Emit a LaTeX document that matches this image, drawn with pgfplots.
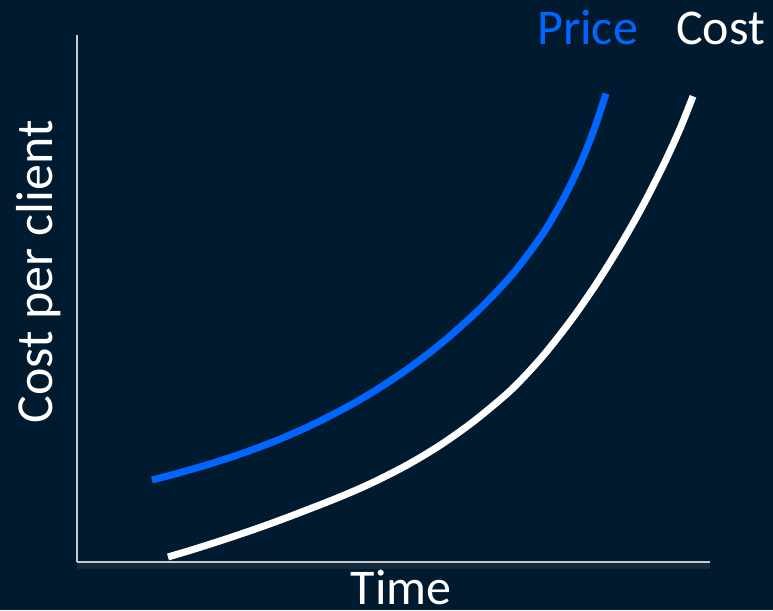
\documentclass[border=0pt]{standalone}
\usepackage{pgfplots}
\pgfplotsset{compat=1.18}
\usepackage{fontspec}
\setmainfont{Carlito}
\definecolor{bg}{RGB}{0,27,48}
\definecolor{priceblue}{RGB}{0,102,255}
\definecolor{axisgray}{RGB}{200,202,206}
\begin{document}
\begin{tikzpicture}[x=1pt,y=1pt]
\fill[bg] (0,0) rectangle (773,610);
\useasboundingbox (0,0) rectangle (773,610);
\fill[white,opacity=0.07] (77,41) rectangle (710,47);
\begin{axis}[
  at={(77,48)}, anchor=south west,
  scale only axis, width=633pt, height=527pt,
  xmin=0, xmax=633, ymin=0, ymax=527,
  axis lines=left,
  axis line style={-, draw=axisgray, line width=1.8pt},
  ticks=none,
  clip=false,
]
\addplot[priceblue, line width=7pt, smooth] coordinates {
(75,82) (101,88.8) (135,98.7) (168,109.6) (201,122.1) (235,137.1) (268,153.9)
(296,170.1) (330,192.5) (363,217.6) (396,246.6) (419,269.6) (441,294.5)
(466,328.5) (486,362.5) (503,397.4) (517,432.4) (529,468.4)
};
\addplot[white, line width=7pt, smooth] coordinates {
(91,5) (118,13.1) (151,23.7) (185,35.3) (218,47.5) (263,65.1) (296,79.6)
(330,96.9) (363,116.7) (396,140.1) (430,168.3) (450,188.3) (470,210.9)
(496,244.4) (520,279.2) (541,312.8) (557,340.3) (571,366.2) (588,400.2)
(603,433.2) (616,465.7)
};
\end{axis}
\node[anchor=base west, inner sep=0pt, text=priceblue, font=\fontsize{50}{60}\selectfont] at (537,565) {Price};
\node[anchor=base west, inner sep=0pt, text=white, font=\fontsize{50}{60}\selectfont] at (676,565) {Cost};
\node[anchor=base, inner sep=0pt, text=white, font=\fontsize{50}{60}\selectfont] at (401,6) {Time};
\node[anchor=base, rotate=90, inner sep=0pt, text=white, font=\fontsize{52}{60}\selectfont] at (52,338) {Cost per client};
\end{tikzpicture}
\end{document}
